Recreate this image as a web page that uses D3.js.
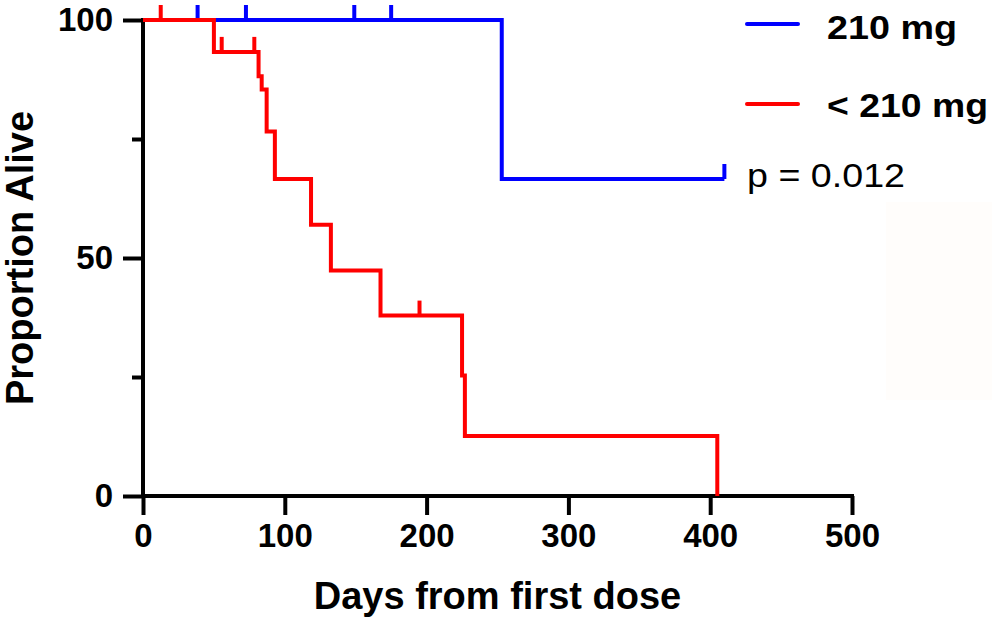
<!DOCTYPE html>
<html>
<head>
<meta charset="utf-8">
<script src="https://cdn.jsdelivr.net/npm/d3@7/dist/d3.min.js"></script>
<style>
  html, body { margin: 0; padding: 0; background: #fff; }
  svg { display: block; font-family: "Liberation Sans", Arial, Helvetica, sans-serif; }
</style>
</head>
<body>
<svg id="chart" width="992" height="624"></svg>
<script>
// ---- data ----
const seriesNames = ["210 mg", "< 210 mg"];
const seriesColors = ["#0000ff", "#ff0000"];

// 210 mg group: step survival curve
const blueDays = [0, 253, 410];
const blueSurv = [100, 66.6, 66.6];
const blueCensorDays = [38.5, 72.6, 149, 175, 410];
const blueCensorSurv = [100, 100, 100, 100, 66.6];

// < 210 mg group
const redDays = [0, 50, 81.5, 83.7, 87.2, 93, 118.5, 132.5, 167.5, 225, 227, 405];
const redSurv = [100, 93.3, 88.2, 85.4, 76.6, 66.6, 57, 47.4, 37.9, 25.3, 12.6, 0];
const redCensorDays = [12.5, 55.5, 78.5, 195];
const redCensorSurv = [100, 93.3, 93.3, 37.9];

const xTicks = [0, 100, 200, 300, 400, 500];
const yMajorTicks = [0, 50, 100];
const yMinorTicks = [25, 75];
const xTitle = "Days from first dose";
const yTitle = "Proportion Alive";
const pText = "p = 0.012";

// ---- layout ----
const svg = d3.select("#chart");
const x = d3.scaleLinear().domain([0, 500]).range([143, 852]);
const y = d3.scaleLinear().domain([0, 100]).range([496, 20]);

// faint background patch seen at the right
svg.append("rect").attr("x", 886).attr("y", 202).attr("width", 106).attr("height", 198)
  .attr("fill", "#fffdfb");

// axes
const xAxis = d3.axisBottom(x).tickValues(xTicks).tickSize(19).tickSizeOuter(0).tickPadding(9)
  .tickFormat(d3.format("d"));
const gx = svg.append("g").attr("transform", `translate(0,${y(0)})`).call(xAxis);
gx.select(".domain").attr("stroke", "#000").attr("stroke-width", 4)
  .attr("d", `M${x(0) - 2},0H${x(500) + 2}`);
gx.selectAll(".tick line").attr("stroke", "#000").attr("stroke-width", 4);
gx.selectAll(".tick text").attr("fill", "#000").attr("font-size", 33).attr("font-weight", "bold")
  .attr("font-family", "Liberation Sans, Arial, sans-serif");

const yAxis = d3.axisLeft(y).tickValues(yMajorTicks).tickSize(20).tickSizeOuter(0).tickPadding(10)
  .tickFormat(d3.format("d"));
const gy = svg.append("g").attr("transform", `translate(${x(0)},0)`).call(yAxis);
gy.select(".domain").attr("stroke", "#000").attr("stroke-width", 4)
  .attr("d", `M0,${y(100) - 2}V${y(0) + 2}`);
gy.selectAll(".tick line").attr("stroke", "#000").attr("stroke-width", 4);
gy.selectAll(".tick text").attr("fill", "#000").attr("font-size", 33).attr("font-weight", "bold")
  .attr("font-family", "Liberation Sans, Arial, sans-serif");

const yAxisMinor = d3.axisLeft(y).tickValues(yMinorTicks).tickSize(11).tickSizeOuter(0).tickFormat("");
const gym = svg.append("g").attr("transform", `translate(${x(0)},0)`).call(yAxisMinor);
gym.select(".domain").remove();
gym.selectAll(".tick line").attr("stroke", "#000").attr("stroke-width", 4);

// axis titles
svg.append("text").attr("x", (x(0) + x(500)) / 2 + 0).attr("y", 609)
  .attr("text-anchor", "middle").attr("font-size", 38).attr("font-weight", "bold")
  .attr("fill", "#000").text(xTitle);
svg.append("text").attr("transform", `translate(33,${y(50)}) rotate(-90)`)
  .attr("text-anchor", "middle").attr("font-size", 38).attr("font-weight", "bold")
  .attr("fill", "#000").text(yTitle);

// curves
const line = d3.line().x(d => x(d[0])).y(d => y(d[1])).curve(d3.curveStepAfter);
const blueData = blueDays.map((d, i) => [d, blueSurv[i]]);
const redData = redDays.map((d, i) => [d, redSurv[i]]);

function drawSeries(data, cDays, cSurv, color) {
  svg.append("path").datum(data).attr("d", line).attr("fill", "none")
    .attr("stroke", color).attr("stroke-width", 4).attr("stroke-linejoin", "miter")
    .attr("stroke-linecap", "butt");
  svg.append("g").selectAll("line").data(cDays).join("line")
    .attr("x1", d => x(d)).attr("x2", d => x(d))
    .attr("y1", (d, i) => y(cSurv[i]))
    .attr("y2", (d, i) => y(cSurv[i]) - 15)
    .attr("stroke", color).attr("stroke-width", 4);
}
drawSeries(blueData, blueCensorDays, blueCensorSurv, seriesColors[0]);
drawSeries(redData, redCensorDays, redCensorSurv, seriesColors[1]);

// legend
const legY = [24, 104];
const legBase = [38.5, 117];
const legWidths = [130, 161];
seriesNames.forEach((name, i) => {
  svg.append("line").attr("x1", 747).attr("x2", 798).attr("y1", legY[i]).attr("y2", legY[i])
    .attr("stroke", seriesColors[i]).attr("stroke-width", 4).attr("stroke-linecap", "round");
  svg.append("text").attr("x", 827).attr("y", legBase[i]).attr("font-size", 34)
    .attr("font-weight", "bold").attr("fill", "#000")
    .attr("textLength", legWidths[i]).attr("lengthAdjust", "spacingAndGlyphs")
    .text(name);
});
svg.append("text").attr("x", 747).attr("y", 187).attr("font-size", 34).attr("fill", "#000")
  .attr("textLength", 158).attr("lengthAdjust", "spacingAndGlyphs").text(pText);
</script>
</body>
</html>
